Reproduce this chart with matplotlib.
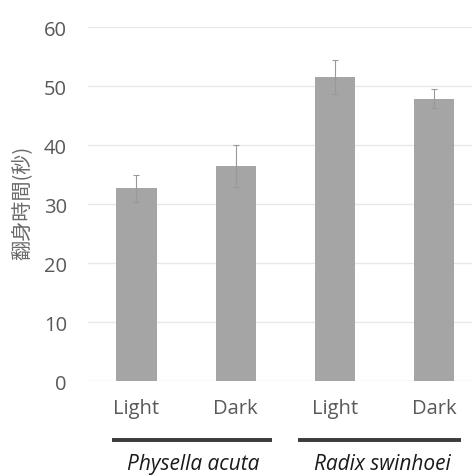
import matplotlib
matplotlib.use("Agg")
import matplotlib.pyplot as plt
import numpy as np

categories = ["Light", "Dark", "Light", "Dark"]
values = [32.7, 36.5, 51.6, 47.9]
errors = [2.3, 3.6, 2.9, 1.6]
groups = ["Physella acuta", "Radix swinhoei"]
y_ticks = [0, 10, 20, 30, 40, 50, 60]
y_label = "翻身時間(秒)"

fig = plt.figure(figsize=(4.72, 4.77), dpi=100)
ax = fig.add_axes([0.186, 0.199, 0.814, 0.742])

x = np.arange(len(categories))
ax.bar(x, values, width=0.405, color="#a5a5a5", zorder=3)
ax.errorbar(x, values, yerr=errors, fmt="none", ecolor="#999999",
            elinewidth=0.8, capsize=2.5, capthick=0.8, zorder=4)

ax.set_ylim(0, 60)
ax.set_xlim(-0.49, 3.38)
ax.set_yticks(y_ticks)
ax.set_yticklabels([str(t) for t in y_ticks], fontsize=14.5, color="#595959",
                   family=["Open Sans", "DejaVu Sans"])
ax.yaxis.grid(True, color="#e8e8e8", linewidth=1, zorder=0)
ax.set_axisbelow(True)
for s in ax.spines.values():
    s.set_visible(False)
ax.tick_params(axis="both", length=0)
ax.tick_params(axis="x", pad=12)
ax.tick_params(axis="y", pad=15)
ax.set_xticks(x)
ax.set_xticklabels(categories, fontsize=14.5, color="#595959",
                   family=["Open Sans", "DejaVu Sans"])

fig.text(0.047, 0.574, y_label, rotation=90, ha="center", va="center",
         fontsize=14.5, color="#6a6a6a",
         family=["Noto Sans CJK TC", "DejaVu Sans"])

trans = ax.get_xaxis_transform()
spans = [(-0.25, 1.37), (1.63, 3.27)]
label_x = [0.575, 2.48]
for (a, b), lx, g in zip(spans, label_x, groups):
    ax.plot([a, b], [-0.167, -0.167], color="#3a3a3a", linewidth=2.8,
            transform=trans, clip_on=False, solid_capstyle="butt")
    ax.text(lx, -0.232, g, transform=trans, ha="center", va="center",
            fontsize=15, style="italic", color="#1a1a1a",
            family=["Open Sans", "DejaVu Sans"])

fig.savefig("out.png", dpi=100)
